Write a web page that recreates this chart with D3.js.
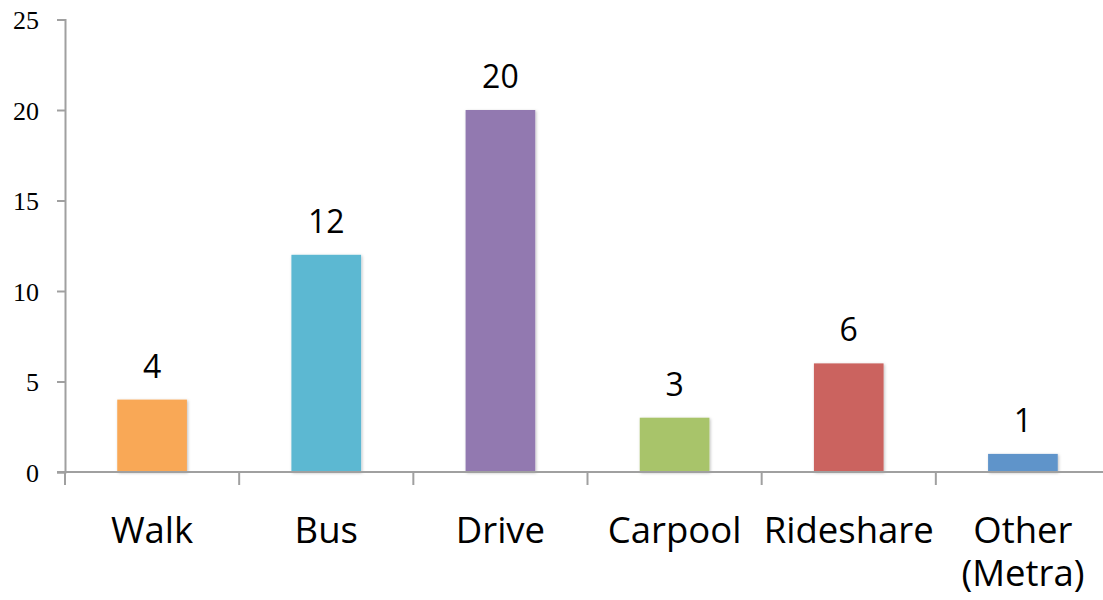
<!DOCTYPE html>
<html><head><meta charset="utf-8">
<script src="https://cdn.jsdelivr.net/npm/d3@7"></script>
<style>body{margin:0;background:#fff;} svg{display:block;}</style>
</head><body>
<svg id="chart" width="1103" height="600"></svg>
<script>
const categories = ["Walk", "Bus", "Drive", "Carpool", "Rideshare", "Other (Metra)"];
const labelLines = [["Walk"], ["Bus"], ["Drive"], ["Carpool"], ["Rideshare"], ["Other", "(Metra)"]];
const values = [4, 12, 20, 3, 6, 1];
const colors = ["#F9A856", "#5BB8D2", "#9279B0", "#A8C46A", "#CB635E", "#5F94CA"];
const yTicks = [0, 5, 10, 15, 20, 25];

(function(){
const svg = d3.select("#chart");
const mLeft = 65, mRight = 1110, mTop = 19.5, mBottom = 472;
const x = d3.scaleBand().domain(categories).range([mLeft, mRight]).paddingInner(0.6).paddingOuter(0.3);
const y = d3.scaleLinear().domain([0, 25]).range([mBottom, mTop]);

const defs = svg.append("defs");
const f = defs.append("filter").attr("id","sh").attr("x","-20%").attr("y","-20%").attr("width","140%").attr("height","140%");
f.append("feDropShadow").attr("dx",1).attr("dy",1).attr("stdDeviation",1.5).attr("flood-color","#000").attr("flood-opacity",0.25);

const yAxis = svg.append("g").attr("transform", `translate(${mLeft},0)`)
  .call(d3.axisLeft(y).tickValues(yTicks).tickSize(8).tickPadding(18).tickSizeOuter(8));
yAxis.select(".domain").attr("stroke", "#a0a0a0").attr("stroke-width", 2);
yAxis.selectAll(".tick line").attr("stroke", "#a0a0a0").attr("stroke-width", 2);
yAxis.selectAll(".tick text").attr("font-family", "'Liberation Serif', serif").attr("font-size", 26).attr("fill", "#000").attr("dy", "0.36em");

svg.append("g").selectAll("rect").data(values).join("rect")
  .attr("x", (d, i) => x(categories[i]))
  .attr("y", d => y(d))
  .attr("width", x.bandwidth())
  .attr("height", d => y(0) - y(d))
  .attr("fill", (d, i) => colors[i])
  .attr("filter", "url(#sh)");

const step = x.step();
svg.append("line").attr("x1", mLeft - 8).attr("x2", 1103).attr("y1", mBottom).attr("y2", mBottom)
  .attr("stroke", "#a0a0a0").attr("stroke-width", 2);
const bounds = d3.range(categories.length + 1).map(i => mLeft + i * step);
svg.append("g").selectAll("line").data(bounds).join("line")
  .attr("x1", d => d).attr("x2", d => d).attr("y1", mBottom).attr("y2", mBottom + 13)
  .attr("stroke", "#a0a0a0").attr("stroke-width", 2);

svg.append("g").selectAll("text").data(values).join("text")
  .attr("x", (d, i) => x(categories[i]) + x.bandwidth() / 2)
  .attr("y", d => y(d) - 22)
  .attr("text-anchor", "middle")
  .attr("font-family", "'Open Sans', sans-serif").attr("font-size", 32).attr("fill", "#000")
  .text(d => d);

const cl = svg.append("g").selectAll("text").data(categories).join("text")
  .attr("x", d => x(d) + x.bandwidth() / 2)
  .attr("y", 543)
  .attr("text-anchor", "middle")
  .attr("font-family", "'Open Sans', sans-serif").attr("font-size", 36.5).attr("fill", "#000");
cl.each(function(d, i) {
  const t = d3.select(this);
  labelLines[i].forEach((ln, j) => {
    t.append("tspan").attr("x", x(d) + x.bandwidth() / 2).attr("dy", j === 0 ? 0 : 43).text(ln);
  });
});
})();
</script>
</body></html>
